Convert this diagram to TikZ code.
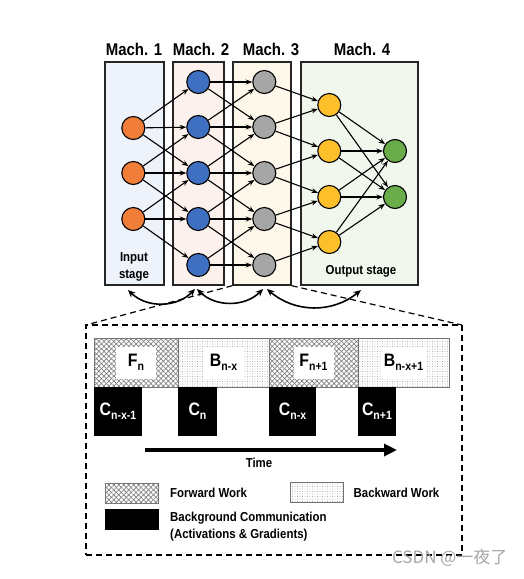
\documentclass[tikz,border=0pt]{standalone}
\usepackage{fontspec}
\setmainfont{Liberation Sans}[FakeStretch=0.88]
\newfontfamily\cjkfont{Noto Sans CJK SC}
\usetikzlibrary{positioning,arrows.meta,patterns,patterns.meta}

\definecolor{machA}{HTML}{EEF2FA}
\definecolor{machB}{HTML}{FCF1EC}
\definecolor{machC}{HTML}{FEF8EA}
\definecolor{machD}{HTML}{F2F7EE}
\definecolor{nodeOrange}{HTML}{F07E3A}
\definecolor{nodeBlue}{HTML}{3F6FC0}
\definecolor{nodeGray}{HTML}{A6A6A6}
\definecolor{nodeYellow}{HTML}{FDC02A}
\definecolor{nodeGreen}{HTML}{6AAB4A}

% letter with lowered index
\newcommand{\wlbl}[2]{#1\raisebox{-4pt}{\fontsize{12}{12}\selectfont #2}}

\tikzset{
  machbox/.style={draw=black!85, line width=1.4pt, minimum height=223pt, inner sep=0pt},
  machtitle/.style={font=\bfseries\fontsize{17}{17}\selectfont},
  neuron/.style={circle, draw=black, line width=1.1pt, minimum size=23pt, inner sep=0pt},
  link/.style={line width=1.1pt, -{Stealth[length=6.5pt,width=5pt]}},
  stagelbl/.style={font=\bfseries\fontsize{13}{17}\selectfont, align=center},
  comm/.style={line width=1.6pt, {Stealth[length=7.5pt,width=6.5pt]}-{Stealth[length=7.5pt,width=6.5pt]}},
  zoomline/.style={line width=1.2pt, dash pattern=on 6pt off 4pt},
  fwdwork/.style={pattern={Lines[angle=45,distance=3.5pt,line width=0.7pt]}, pattern color=black!50,
    postaction={pattern={Lines[angle=-45,distance=3.5pt,line width=0.7pt]}, pattern color=black!50}},
  bwdwork/.style={pattern={Dots[distance=2.5pt,radius=0.45pt]}, pattern color=black!50},
  workblock/.style={draw=black!55, line width=0.8pt, minimum height=49pt, inner sep=0pt, outer sep=0pt},
  worklbl/.style={fill=white, minimum width=40pt, minimum height=32pt, inner sep=3pt, font=\bfseries\fontsize{18}{18}\selectfont},
  commblock/.style={fill=black, text=white, minimum height=49pt, inner sep=0pt, outer sep=0pt, font=\bfseries\fontsize{18}{18}\selectfont},
  lgdbox/.style={draw=black!55, line width=0.8pt, minimum width=53pt, minimum height=20pt, inner sep=0pt, outer sep=0pt},
  lgdtext/.style={font=\bfseries\fontsize{13}{17}\selectfont, align=left, inner sep=2pt}
}

\begin{document}
\begin{tikzpicture}[x=1pt, y=-1pt]
  \useasboundingbox (0,0) rectangle (524,579);

  % machines
  \node[machbox, fill=machA, minimum width=59pt] (m1) at (134.5,173.5) {};
  \node[machbox, fill=machB, minimum width=51pt] (m2) at (198.5,173.5) {};
  \node[machbox, fill=machC, minimum width=58pt] (m3) at (262,173.5) {};
  \node[machbox, fill=machD, minimum width=117pt] (m4) at (359.5,173.5) {};
  \node[machtitle] (t1) at (134,49) {Mach. 1};
  \node[machtitle] (t2) at (201,49) {Mach. 2};
  \node[machtitle] (t3) at (271,49) {Mach. 3};
  \node[machtitle] (t4) at (362,49) {Mach. 4};
  \node[stagelbl] (instage) at (134,267) {Input\\stage};
  \node[stagelbl] (outstage) at (361,271) {Output stage};

  % neurons
  \foreach \i/\y in {1/128,2/173,3/219}
    \node[neuron, fill=nodeOrange] (in\i) at (133.3,\y) {};
  \foreach \i/\y in {1/82,2/127,3/173,4/219,5/265} {
    \node[neuron, fill=nodeBlue] (hb\i) at (198.3,\y) {};
    \node[neuron, fill=nodeGray] (hg\i) at (264.3,\y) {};
  }
  \foreach \i/\y in {1/105,2/151,3/197,4/242}
    \node[neuron, fill=nodeYellow] (hy\i) at (329.3,\y) {};
  \foreach \i/\y in {1/151,2/197}
    \node[neuron, fill=nodeGreen] (out\i) at (395,\y) {};

  % links
  \foreach \a/\b in {1/1,1/2,1/3,2/2,2/3,2/4,3/3,3/4,3/5}
    \draw[link] (in\a) -- (hb\b);
  \foreach \a/\b in {1/1,1/2,2/1,2/2,2/3,3/2,3/3,3/4,4/3,4/4,4/5,5/4,5/5}
    \draw[link] (hb\a) -- (hg\b);
  \foreach \a/\b in {1/1,2/1,2/2,3/2,3/3,4/3,4/4,5/4}
    \draw[link] (hg\a) -- (hy\b);
  \foreach \a in {1,...,4}
    \foreach \b in {1,2}
      \draw[link] (hy\a) -- (out\b);

  % communication between machines
  \coordinate (ca1) at (128,290);
  \coordinate (ca2) at (195,289);
  \coordinate (ca3) at (197,289);
  \coordinate (ca4) at (263,289);
  \coordinate (ca5) at (267,289);
  \coordinate (ca6) at (361,290);
  \draw[comm] (ca1) to[bend right=45] (ca2);
  \draw[comm] (ca3) to[bend right=45] (ca4);
  \draw[comm] (ca5) to[bend right=40] (ca6);

  % zoomed timeline of Mach. 3
  \node[draw, zoomline, minimum width=376pt, minimum height=230pt, inner sep=0pt, outer sep=0pt] (zoombox) at (274,440) {};
  \draw[zoomline] (m3.south west) -- (zoombox.north west);
  \draw[zoomline] (m3.south east) -- (zoombox.north east);

  \node[workblock, fwdwork, minimum width=84pt] (fw1) at (136,362.5) {};
  \node[workblock, bwdwork, minimum width=91pt, right=0pt of fw1] (bw1) {};
  \node[workblock, fwdwork, minimum width=89pt, right=0pt of bw1] (fw2) {};
  \node[workblock, bwdwork, minimum width=91pt, right=0pt of fw2] (bw2) {};
  \node[worklbl] (fw1l) at (fw1) {\wlbl{F}{n}};
  \node[worklbl] (bw1l) at (bw1) {\wlbl{B}{n-x}};
  \node[worklbl] (fw2l) at (fw2) {\wlbl{F}{n+1}};
  \node[worklbl] (bw2l) at (bw2) {\wlbl{B}{n-x+1}};

  \node[commblock, minimum width=48pt, anchor=north west] (cm1) at (fw1.south west) {\wlbl{C}{n-x-1}};
  \node[commblock, minimum width=39pt, anchor=north west] (cm2) at (bw1.south west) {\wlbl{C}{n}};
  \node[commblock, minimum width=47pt, anchor=north west] (cm3) at (fw2.south west) {\wlbl{C}{n-x}};
  \node[commblock, minimum width=38pt, anchor=north west] (cm4) at (bw2.south west) {\wlbl{C}{n+1}};

  \coordinate (tstart) at (145,450);
  \coordinate (tend) at (397,450);
  \draw[line width=3.5pt, -{Triangle[length=13pt,width=12pt]}] (tstart) -- (tend);
  \node[lgdtext] (tlbl) at (259,463) {Time};

  % legend
  \node[lgdbox, fwdwork] (lgfw) at (131.5,493) {};
  \node[lgdtext, right=10pt of lgfw] (lgfwt) {Forward Work};
  \node[lgdbox, bwdwork] (lgbw) at (317,492.5) {};
  \node[lgdtext, right=8pt of lgbw] (lgbwt) {Backward Work};
  \node[lgdbox, fill=black, draw=black] (lgcm) at (131.5,519.5) {};
  \node[lgdtext, anchor=north west] (lgcmt) at ([xshift=10pt]lgcm.north east) {Background Communication\\(Activations \& Gradients)};

  \node[text=black!35, font=\cjkfont\fontsize{17}{17}\selectfont, anchor=east] (wmark) at (511,558) {CSDN @一夜了};
\end{tikzpicture}
\end{document}
